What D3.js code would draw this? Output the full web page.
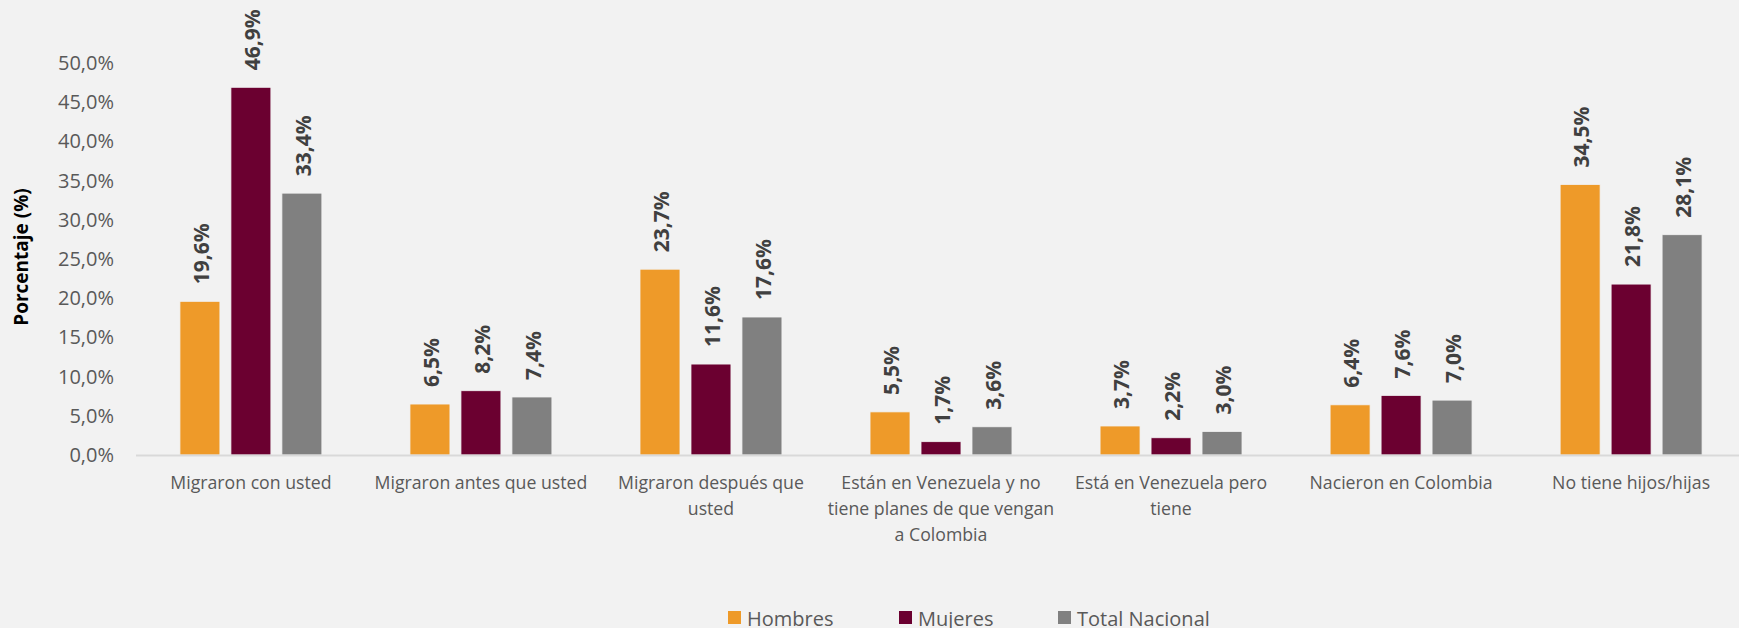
<!DOCTYPE html>
<html>
<head>
<meta charset="utf-8">
<script src="https://cdn.jsdelivr.net/npm/d3@7"></script>
<style>
  body { margin: 0; background: #f2f2f2; }
  svg { display: block; font-family: "Open Sans", "Noto Sans", sans-serif; }
</style>
</head>
<body>
<script>
// Categories (line breaks as in the original chart)
var categories = [
  "Migraron con usted",
  "Migraron antes que usted",
  "Migraron después que\nusted",
  "Están en Venezuela y no\ntiene planes de que vengan\na Colombia",
  "Está en Venezuela pero\ntiene",
  "Nacieron en Colombia",
  "No tiene hijos/hijas"
];

var seriesNames = ["Hombres", "Mujeres", "Total Nacional"];
var seriesColors = ["#ee9a29", "#6b0030", "#808080"];

var hombres = [19.6, 6.5, 23.7, 5.5, 3.7, 6.4, 34.5];
var mujeres = [46.9, 8.2, 11.6, 1.7, 2.2, 7.6, 21.8];
var totalNacional = [33.4, 7.4, 17.6, 3.6, 3.0, 7.0, 28.1];

var yTicks = [0, 5, 10, 15, 20, 25, 30, 35, 40, 45, 50];

(function() {

//------------------------------------------------------------------------------
// Layout
//------------------------------------------------------------------------------

var width = 1739, height = 628;
var plotLeft = 136, plotRight = 1746, plotTop = 63, plotBottom = 455;

var fmt = function(v) { return v.toFixed(1).replace(".", ",") + "%"; };

var svg = d3.select("body").append("svg")
  .attr("width", width)
  .attr("height", height);

svg.append("rect")
  .attr("width", width)
  .attr("height", height)
  .attr("fill", "#f2f2f2");

var x0 = d3.scaleBand()
  .domain(categories)
  .range([plotLeft, plotRight])
  .paddingInner(0.383)
  .paddingOuter(0.191);

var x1 = d3.scaleBand()
  .domain(seriesNames)
  .range([0, x0.bandwidth()])
  .paddingInner(0.216);

var y = d3.scaleLinear()
  .domain([0, 50])
  .range([plotBottom, plotTop]);

var color = d3.scaleOrdinal().domain(seriesNames).range(seriesColors);

var allValues = [hombres, mujeres, totalNacional];

// Y axis (labels only)
var yAxis = svg.append("g")
  .attr("transform", "translate(" + (plotLeft - 22) + ",0)")
  .call(d3.axisLeft(y).tickValues(yTicks).tickSize(0).tickPadding(0)
    .tickFormat(fmt));
yAxis.select(".domain").remove();
yAxis.selectAll("text")
  .attr("fill", "#595959")
  .style("font-size", "20px")
  .style("font-family", "'Open Sans', 'Noto Sans', sans-serif");

// Y title
svg.append("text")
  .attr("transform", "translate(21," + ((plotTop + plotBottom) / 2 - 2) + ") rotate(-90)")
  .attr("text-anchor", "middle")
  .attr("dominant-baseline", "central")
  .attr("font-weight", "bold")
  .attr("font-size", "19px")
  .attr("fill", "#000")
  .text("Porcentaje (%)");

// Bars
var groups = svg.selectAll(".group")
  .data(categories)
  .enter().append("g")
  .attr("class", "group")
  .attr("transform", function(d) { return "translate(" + x0(d) + ",0)"; });

var bars = groups.selectAll(".bar")
  .data(function(d, i) {
    return seriesNames.map(function(s, j) { return {series: s, value: allValues[j][i]}; });
  })
  .enter();

bars.append("rect")
  .attr("class", "bar")
  .attr("x", function(d) { return x1(d.series); })
  .attr("y", function(d) { return y(d.value); })
  .attr("width", x1.bandwidth())
  .attr("height", function(d) { return y(0) - y(d.value); })
  .attr("fill", function(d) { return color(d.series); })
  .attr("stroke", "#f2f2f2")
  .attr("stroke-width", 0.8);

bars.append("text")
  .attr("transform", function(d) {
    return "translate(" + (x1(d.series) + x1.bandwidth() / 2 + 1) + "," + (y(d.value) - 17) + ") rotate(-90)";
  })
  .attr("dominant-baseline", "central")
  .attr("font-weight", "bold")
  .attr("font-size", "21px")
  .attr("fill", "#404040")
  .text(function(d) { return fmt(d.value); });

// X axis line
svg.append("line")
  .attr("x1", plotLeft)
  .attr("x2", plotRight)
  .attr("y1", plotBottom + 0.5)
  .attr("y2", plotBottom + 0.5)
  .attr("stroke", "#d9d9d9")
  .attr("stroke-width", 2);

// Category labels
svg.selectAll(".cat")
  .data(categories)
  .enter().append("text")
  .attr("class", "cat")
  .attr("text-anchor", "middle")
  .attr("font-size", "17.7px")
  .attr("fill", "#595959")
  .each(function(d) {
    var t = d3.select(this);
    var cx = x0(d) + x0.bandwidth() / 2;
    d.split("\n").forEach(function(line, i) {
      t.append("tspan")
        .attr("x", cx)
        .attr("y", plotBottom + 34 + i * 26)
        .text(line);
    });
  });

// Legend
var legendX = [728, 899, 1058];
var legend = svg.selectAll(".legend")
  .data(seriesNames)
  .enter().append("g")
  .attr("class", "legend")
  .attr("transform", function(d, i) { return "translate(" + legendX[i] + ",611)"; });

legend.append("rect")
  .attr("width", 13)
  .attr("height", 13)
  .attr("fill", function(d) { return color(d); });

legend.append("text")
  .attr("x", 19)
  .attr("y", 7)
  .attr("dominant-baseline", "central")
  .attr("font-size", "20px")
  .attr("fill", "#595959")
  .text(function(d) { return d; });

})();
</script>
</body>
</html>
